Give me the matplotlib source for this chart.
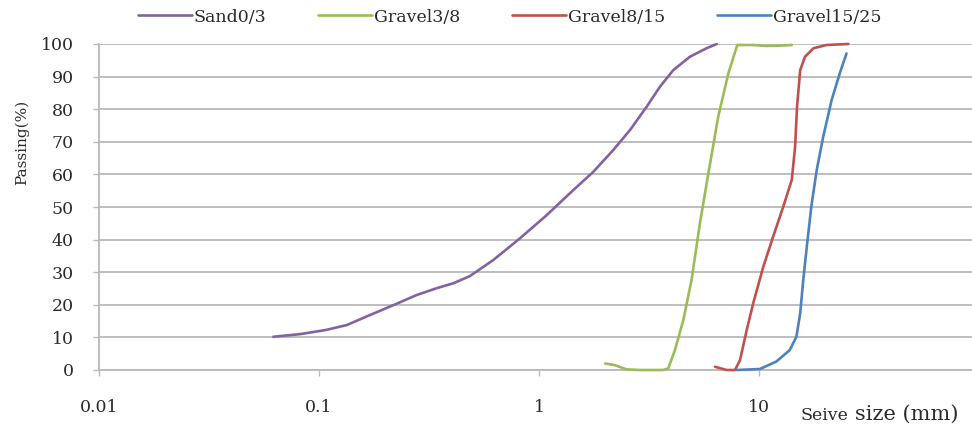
import matplotlib
matplotlib.use("Agg")
from matplotlib import pyplot as plt
from matplotlib.ticker import FixedLocator, NullLocator

# sieve size (mm) vs passing (%) for each aggregate
sand_size = [0.062, 0.082, 0.108, 0.134, 0.171, 0.218, 0.278, 0.343, 0.408, 0.485,
             0.619, 0.82, 1.084, 1.433, 1.767, 2.178, 2.593, 3.09, 3.548, 4.08,
             4.857, 5.78, 6.43]
sand_pass = [10.2, 11.0, 12.3, 13.8, 16.9, 19.9, 23.0, 25.1, 26.6, 28.8,
             33.7, 40.4, 47.5, 55.2, 60.8, 67.5, 73.6, 80.8, 86.9, 92.0,
             96.1, 98.7, 100]

g38_size = [2.0, 2.21, 2.5, 2.88, 3.67, 3.87, 4.15, 4.53, 4.94, 5.39,
            5.89, 6.53, 7.26, 7.97, 9.42, 10.8, 12.45, 14.1]
g38_pass = [2.0, 1.5, 0.2, 0, 0, 0.5, 6.1, 15.3, 27.6, 45,
            60.3, 77.7, 91, 99.7, 99.7, 99.4, 99.5, 99.7]

g815_size = [6.31, 7.13, 7.78, 8.2, 8.8, 9.42, 10.47, 11.6, 12.9, 14.1,
             14.6, 14.9, 15.4, 16.2, 17.7, 20.3, 25.5]
g815_pass = [1.0, 0, 0, 3, 12.3, 20.5, 31.7, 40.9, 50.1, 58.3,
             68.5, 80.8, 92, 96.1, 98.7, 99.7, 100]

g1525_size = [7.9, 10.1, 12.0, 13.8, 14.8, 15.4, 15.9, 16.5, 17.3, 18.3,
              19.6, 21.4, 23.3, 25.0]
g1525_pass = [0, 0.3, 2.6, 6.1, 10.2, 17.4, 27.6, 37.8, 50.1, 61.3,
              71.6, 82.8, 91, 97.1]

series_names = ["Sand0/3", "Gravel3/8", "Gravel8/15", "Gravel15/25"]
series_colors = ["#8064A2", "#9BBB59", "#C0504D", "#4F81BD"]

x_ticks = [0.01, 0.1, 1, 10]
x_tick_labels = ["0.01", "0.1", "1", "10"]
y_ticks = [0, 10, 20, 30, 40, 50, 60, 70, 80, 90, 100]

FONT = "DejaVu Serif"
TEXT_COLOR = "#2a2a2a"
GRID_COLOR = "#b9b9b9"


def main():
    fig = plt.figure(figsize=(9.72, 4.3), dpi=100)
    ax = fig.add_axes([99 / 972, 60 / 430, 1 - 99 / 972, 326 / 430])

    data = [(sand_size, sand_pass), (g38_size, g38_pass),
            (g815_size, g815_pass), (g1525_size, g1525_pass)]
    for (xs, ys), name, color in zip(data, series_names, series_colors):
        ax.plot(xs, ys, color=color, lw=1.9, label=name, clip_on=False,
                solid_capstyle="round", solid_joinstyle="round", zorder=3)

    ax.set_xscale("log")
    ax.set_xlim(0.01, 93)
    ax.set_ylim(0, 100)

    ax.xaxis.set_major_locator(FixedLocator(x_ticks))
    ax.xaxis.set_minor_locator(NullLocator())
    ax.set_xticks(x_ticks, x_tick_labels)
    ax.set_yticks(y_ticks)

    ax.grid(axis="y", color=GRID_COLOR, lw=1.3)
    ax.set_axisbelow(True)
    for side in ["top", "right"]:
        ax.spines[side].set_visible(False)
    for side in ["left", "bottom"]:
        ax.spines[side].set_color(GRID_COLOR)
        ax.spines[side].set_linewidth(1.3)

    ax.tick_params(axis="y", length=4, width=1, color=GRID_COLOR, pad=14,
                   labelsize=12.5, labelcolor=TEXT_COLOR)
    ax.tick_params(axis="x", length=4, width=1, color=GRID_COLOR, pad=17,
                   labelsize=12.5, labelcolor=TEXT_COLOR)
    for lab in ax.get_xticklabels() + ax.get_yticklabels():
        lab.set_family(FONT)

    fig.text(22 / 972, 1 - 142 / 430, "Passing(%)", rotation=90, ha="center",
             va="center", fontsize=11, family=FONT, color=TEXT_COLOR)
    fig.text(800 / 972, 10 / 430, "Seive", ha="left", va="baseline",
             fontsize=12.5, family=FONT, color=TEXT_COLOR)
    fig.text(855 / 972, 10 / 430, "size (mm)", ha="left", va="baseline",
             fontsize=15, family=FONT, color=TEXT_COLOR)

    fig.legend(loc="center left", bbox_to_anchor=(138 / 972, 1 - 17 / 430),
               ncol=4, frameon=False, borderpad=0, borderaxespad=0,
               handlelength=3.1, handletextpad=0.1, columnspacing=3.0,
               prop={"family": FONT, "size": 12.5}, labelcolor=TEXT_COLOR)

    fig.savefig("out.png", dpi=100)


if __name__ == "__main__":
    main()
